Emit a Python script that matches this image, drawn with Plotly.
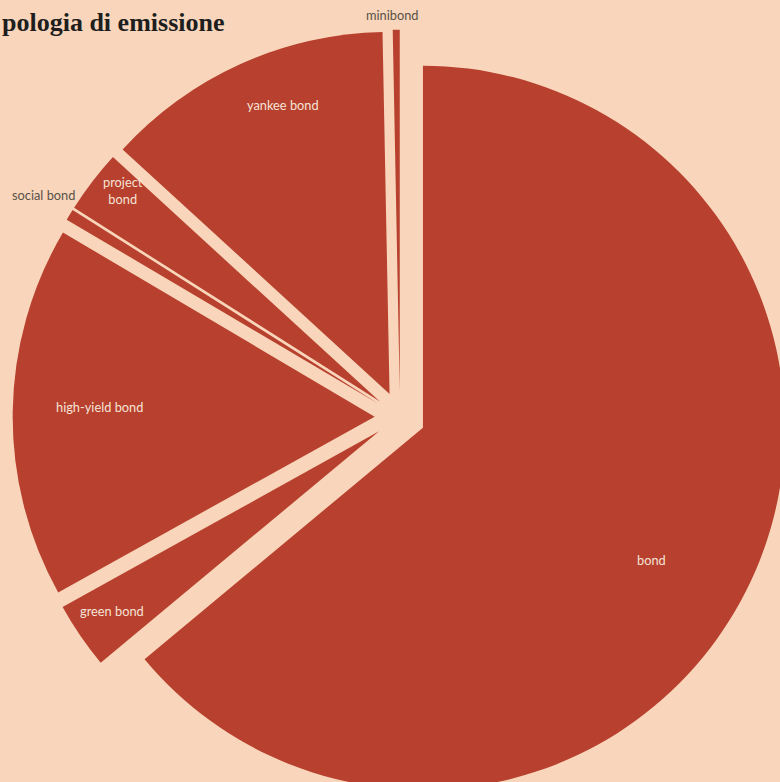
import math
import plotly.graph_objects as go

# ---- data ----
categories = ["bond", "green bond", "high-yield bond", "social bond", "project bond", "yankee bond", "minibond"]
shares = [63.97, 2.97, 16.56, 0.50, 2.81, 12.89, 0.31]
label_texts = ["bond", "green bond", "high-yield bond", "social bond", "project<br>bond", "yankee bond", "minibond"]
title_text = "pologia di emissione"

# ---- style / layout constants ----
W, H = 800, 820
BG = "#F9D6BB"
RED = "#B7402E"
CX, CY = 400, 417          # pie centre in px (from top-left)
R = 362                    # pie radius in px
PULL = 0.07
label_frac = [0.73, 0.89, 0.76, 1.09, 0.92, 0.85, 1.04]
label_off = [5.0, 0.4, 1.2, 0.4, 2.0, 4.0, -0.6]
inside = [True, True, True, False, True, True, False]

half = R * (1 + PULL)
dom_x = [(CX - half) / W, (CX + half) / W]
dom_y = [1 - (CY + half) / H, 1 - (CY - half) / H]

fig = go.Figure(go.Pie(
    labels=categories,
    values=shares,
    sort=False,
    direction="clockwise",
    rotation=0,
    pull=[PULL] * len(shares),
    marker=dict(colors=[RED] * len(shares), line=dict(width=0)),
    textinfo="none",
    hoverinfo="none",
    domain=dict(x=dom_x, y=dom_y),
    showlegend=False,
))

# label positions derived from slice angles
total = sum(shares)
annotations = []
start = 0.0
for i, v in enumerate(shares):
    span = v / total * 360
    mid = start + span / 2
    ax = CX + PULL * R * math.sin(math.radians(mid))
    ay = CY - PULL * R * math.cos(math.radians(mid))
    ang = math.radians(mid + label_off[i])
    px = ax + label_frac[i] * R * math.sin(ang)
    py = ay - label_frac[i] * R * math.cos(ang)
    annotations.append(dict(
        x=px / W, y=1 - py / H, xref="paper", yref="paper",
        text=label_texts[i], showarrow=False,
        xanchor="center", yanchor="middle",
        font=dict(family="Lato, Open Sans, sans-serif", size=12.8,
                  color="#F6E3D6" if inside[i] else "#5a5148"),
    ))
    start += span

annotations.append(dict(
    x=0, y=1 - 22 / H, xref="paper", yref="paper",
    text="<b>" + title_text + "</b>", showarrow=False,
    xanchor="left", yanchor="middle",
    font=dict(family="Liberation Serif, serif", size=26, color="#1e1e1e"),
))

fig.update_layout(
    width=W, height=H,
    margin=dict(l=0, r=0, t=0, b=0),
    paper_bgcolor=BG, plot_bgcolor=BG,
    annotations=annotations,
)

fig.write_html(
    "out.html",
    config={"displayModeBar": False},
    post_script="document.body.style.margin='0';document.body.style.overflow='hidden';"
                "document.body.style.background='" + BG + "';",
)
